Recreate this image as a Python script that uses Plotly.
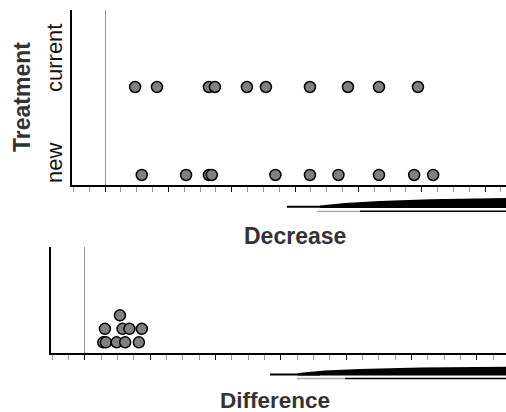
import plotly.graph_objects as go

# ---- data ----
current_decrease = [0.95, 1.64, 3.28, 3.47, 4.48, 5.08, 6.47, 7.67, 8.65, 9.88]
new_decrease = [1.16, 2.56, 3.28, 3.37, 5.38, 6.47, 7.37, 8.65, 9.76, 10.36]
difference = [0.56, 0.64, 0.97, 1.23, 1.65, 0.61, 1.15, 1.36, 1.74, 1.07]
difference_stack = [0, 0, 0, 0, 0, 1, 1, 1, 1, 2]
group_labels = ["new", "current"]
group_pos = [0, 1]

W, H = 506, 412
FONT = "Liberation Sans, Arial, sans-serif"


def px(x, y):
    return x / W, 1 - y / H


marker = dict(size=11, color="#808080", line=dict(color="black", width=1.5))

fig = go.Figure()
fig.add_trace(go.Scatter(x=current_decrease, y=[group_pos[1]] * len(current_decrease),
                         mode="markers", marker=marker, xaxis="x", yaxis="y",
                         showlegend=False))
fig.add_trace(go.Scatter(x=new_decrease, y=[group_pos[0]] * len(new_decrease),
                         mode="markers", marker=marker, xaxis="x", yaxis="y",
                         showlegend=False))
fig.add_trace(go.Scatter(x=difference, y=difference_stack,
                         mode="markers", marker=marker, xaxis="x2", yaxis="y2",
                         showlegend=False))

xcommon = dict(showgrid=False, showticklabels=False, showline=True, linecolor="black",
               linewidth=1.5, ticks="outside", ticklen=5, tickcolor="black", tickwidth=1.2,
               dtick=2, tick0=0, zeroline=True, zerolinecolor="#999999", zerolinewidth=1.2,
               minor=dict(ticks="outside", ticklen=5, tickcolor="#999999", tickwidth=1,
                          dtick=0.5, showgrid=False))
ycommon = dict(showgrid=False, showticklabels=False, showline=True, linecolor="black",
               linewidth=1.5, ticks="", zeroline=False)

fig.update_layout(
    width=W, height=H, autosize=False,
    margin=dict(l=0, r=0, t=0, b=0),
    plot_bgcolor="white", paper_bgcolor="white",
    xaxis=dict(domain=[72.3 / W, 1], range=[-1.033, 12.66], anchor="y", **xcommon),
    yaxis=dict(domain=[1 - 185 / H, 1 - 10 / H], range=[-0.114, 1.875], anchor="x", **ycommon),
    xaxis2=dict(domain=[50.7 / W, 1], range=[-1.05, 12.89], anchor="y2", **xcommon),
    yaxis2=dict(domain=[1 - 353 / H, 1 - 247 / H], range=[-0.79, 7.06], anchor="x2", **ycommon),
)

annots = []


def add_text(text, x, y, size, bold=False, angle=0, color="black"):
    ax, ay = px(x, y)
    annots.append(dict(text=f"<b>{text}</b>" if bold else text, x=ax, y=ay,
                       xref="paper", yref="paper", showarrow=False, textangle=angle,
                       xanchor="center", yanchor="middle",
                       font=dict(family=FONT, size=size, color=color)))


add_text("Treatment", 22.5, 97.5, 23, bold=True, angle=-90, color="#333333")
add_text(group_labels[1], 55, 58, 22, angle=-90, color="#111111")
add_text(group_labels[0], 55, 163, 22, angle=-90, color="#111111")
add_text("Decrease", 294.5, 236, 23, bold=True, color="#333333")
add_text("Difference", 275, 400.5, 22.5, bold=True, color="#333333")
fig.update_layout(annotations=annots)


def path(points):
    s = ""
    for i, (x, y) in enumerate(points):
        a, b = px(x, y)
        s += ("M" if i == 0 else " L") + f"{a:.5f},{b:.5f}"
    return s + " Z"


def seg(x0, y0, x1, y1, color, width):
    a0, b0 = px(x0, y0)
    a1, b1 = px(x1, y1)
    return dict(type="line", xref="paper", yref="paper", x0=a0, y0=b0, x1=a1, y1=b1,
                line=dict(color=color, width=width))


shapes = []
# top wedge
shapes.append(seg(287, 206.7, 340, 206.7, "black", 2))
shapes.append(dict(type="path", xref="paper", yref="paper",
                   path=path([(320, 205.5), (345, 203), (380, 201), (430, 199.3), (506, 198),
                              (506, 208), (320, 208)]),
                   fillcolor="black", line=dict(width=0)))
shapes.append(seg(317, 211.3, 360, 211.3, "#aaaaaa", 1.3))
shapes.append(seg(360, 211.3, 506, 211.3, "black", 1.5))
# bottom wedge
shapes.append(seg(270, 374.5, 320, 374.5, "black", 2))
shapes.append(dict(type="path", xref="paper", yref="paper",
                   path=path([(298, 373), (325, 370.5), (360, 369), (420, 367.5), (506, 366.7),
                              (506, 375.5), (298, 375.5)]),
                   fillcolor="black", line=dict(width=0)))
shapes.append(seg(297, 378.5, 345, 378.5, "#aaaaaa", 1.3))
shapes.append(seg(345, 378.5, 506, 378.5, "black", 1.5))
fig.update_layout(shapes=shapes)

fig.write_html("out.html", config={"displayModeBar": False},
               post_script="document.body.style.margin='0';document.body.style.overflow='hidden';")
